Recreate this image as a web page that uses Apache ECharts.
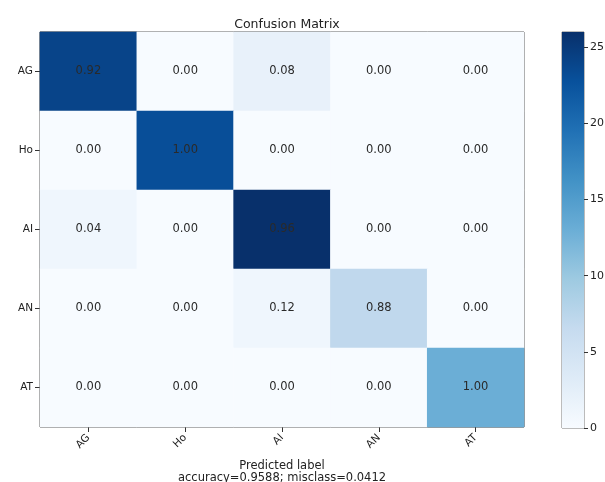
<!DOCTYPE html>
<html>
<head>
<meta charset="utf-8">
<script src="https://cdn.jsdelivr.net/npm/echarts@6/dist/echarts.min.js"></script>
<style>html,body{margin:0;padding:0;background:#fff}#c{width:605px;height:482px}</style>
</head>
<body>
<div id="c"></div>
<script>
// Class names (rows = true label, columns = predicted label)
const classes = ['AG', 'Ho', 'AI', 'AN', 'AT'];
// Raw counts per row (drive the colour)
const countsAG = [24, 0, 2, 0, 0];
const countsHo = [0, 23, 0, 0, 0];
const countsAI = [1, 0, 26, 0, 0];
const countsAN = [0, 0, 1, 7, 0];
const countsAT = [0, 0, 0, 0, 13];
// Normalized values shown as cell text
const normAG = ['0.92', '0.00', '0.08', '0.00', '0.00'];
const normHo = ['0.00', '1.00', '0.00', '0.00', '0.00'];
const normAI = ['0.04', '0.00', '0.96', '0.00', '0.00'];
const normAN = ['0.00', '0.00', '0.12', '0.88', '0.00'];
const normAT = ['0.00', '0.00', '0.00', '0.00', '1.00'];
// Colorbar
const colorMax = 26;
const colorTicks = [0, 5, 10, 15, 20, 25];
const xTitle = 'Predicted label';
const xSubtitle = 'accuracy=0.9588; misclass=0.0412';

const counts = [countsAG, countsHo, countsAI, countsAN, countsAT];
const norms = [normAG, normHo, normAI, normAN, normAT];
const blues = ['#f7fbff', '#deebf7', '#c6dbef', '#9ecae1', '#6baed6', '#4292c6', '#2171b5', '#08519c', '#08306b'];

const data = [];
counts.forEach((row, i) => row.forEach((v, j) => data.push({value: [j, i, v], label: norms[i][j]})));

const font = 'DejaVu Sans';
const chart = echarts.init(document.getElementById('c'), null, {renderer: 'canvas'});
chart.setOption({
  animation: false,
  textStyle: {fontFamily: font},
  title: {
    text: 'Confusion Matrix', left: 282, top: 13, textAlign: 'center',
    textStyle: {fontFamily: font, fontSize: 12.5, fontWeight: 'normal', color: '#222'}
  },
  grid: [
    {left: 40, top: 32, width: 484, height: 395, show: true, borderColor: '#333', borderWidth: 1,
     backgroundColor: 'transparent', outerBoundsMode: 'none', containLabel: false},
    {left: 562, top: 32, width: 22, height: 396, show: true, borderColor: '#555', borderWidth: 0.8,
     backgroundColor: 'transparent', outerBoundsMode: 'none', containLabel: false}
  ],
  xAxis: [
    {
      type: 'category', data: classes, gridIndex: 0,
      axisLine: {show: false},
      axisTick: {show: true, alignWithLabel: true, length: 5, lineStyle: {color: '#333'}},
      axisLabel: {rotate: 45, fontSize: 10.5, color: '#222', margin: 9, fontFamily: font},
      splitLine: {show: false},
      name: xTitle + '\n' + xSubtitle, nameLocation: 'middle', nameGap: 33,
      nameTextStyle: {fontSize: 11.5, color: '#222', lineHeight: 12, fontFamily: font}
    },
    {type: 'category', data: [''], gridIndex: 1, show: false}
  ],
  yAxis: [
    {
      type: 'category', data: classes, gridIndex: 0, inverse: true,
      axisLine: {show: false},
      axisTick: {show: true, alignWithLabel: true, length: 5, lineStyle: {color: '#333'}},
      axisLabel: {fontSize: 10.5, color: '#222', margin: 7, fontFamily: font},
      splitLine: {show: false}
    },
    {
      type: 'value', gridIndex: 1, min: 0, max: colorMax, interval: 5, position: 'right',
      axisLine: {show: false},
      axisTick: {show: true, length: 4, lineStyle: {color: '#333'}},
      axisLabel: {fontSize: 11, color: '#222', margin: 6, showMaxLabel: false, fontFamily: font,
        formatter: v => colorTicks.includes(v) ? String(v) : ''},
      splitLine: {show: false}
    }
  ],
  visualMap: {
    show: false, type: 'continuous', min: 0, max: colorMax, dimension: 2, seriesIndex: 0,
    inRange: {color: blues}
  },
  series: [
    {
      type: 'heatmap', xAxisIndex: 0, yAxisIndex: 0, data: data,
      itemStyle: {borderWidth: 0},
      label: {show: true, formatter: p => p.data.label, fontSize: 11.5, color: '#2a2a2a', fontFamily: font},
      emphasis: {disabled: true}
    },
    {
      type: 'bar', xAxisIndex: 1, yAxisIndex: 1, data: [colorMax], barWidth: '100%',
      itemStyle: {
        color: new echarts.graphic.LinearGradient(0, 0, 0, 1,
          blues.slice().reverse().map((c, k) => ({offset: k / (blues.length - 1), color: c})))
      },
      silent: true
    }
  ]
});
</script>
</body>
</html>
